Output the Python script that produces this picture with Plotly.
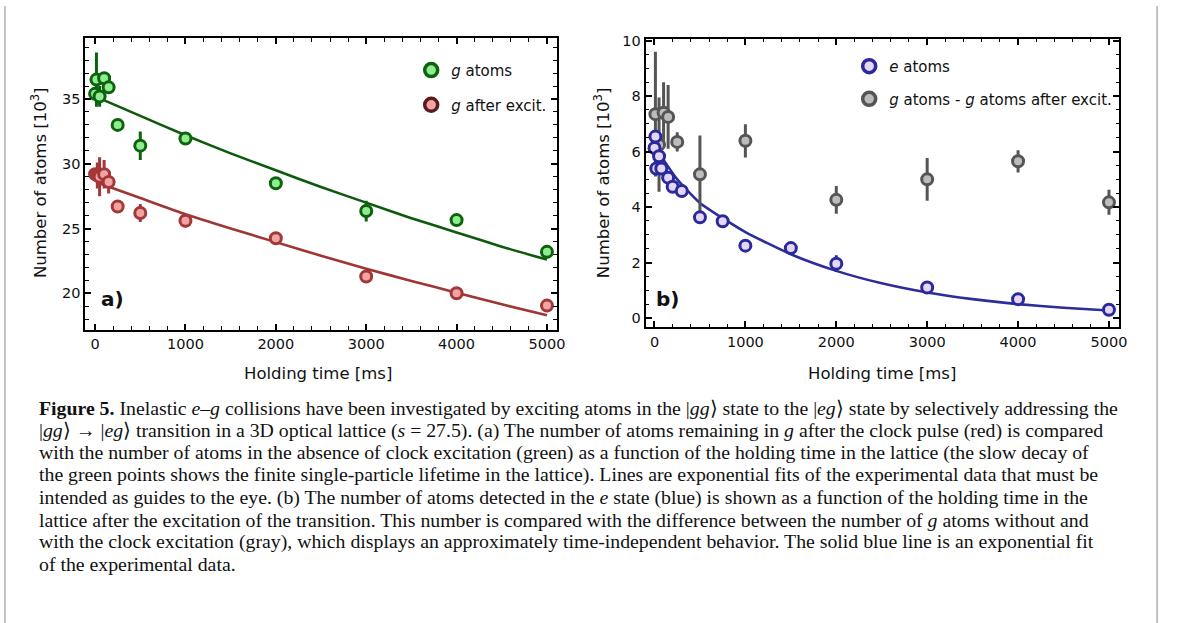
import plotly.graph_objects as go

# ---------------- data ----------------
# Panel a
g_t   = [0, 15, 50, 100, 150, 250, 500, 1000, 2000, 3000, 4000, 5000]
g_n   = [35.4, 36.5, 35.2, 36.6, 35.9, 33.0, 31.4, 31.95, 28.5, 26.35, 25.65, 23.2]
g_err = [0.3, 2.1, 0.8, 0.3, 0.3, 0.3, 1.1, 0.3, 0.3, 0.8, 0.3, 0.3]

r_t   = [0, 25, 50, 100, 150, 250, 500, 1000, 2000, 3000, 4000, 5000]
r_n   = [29.2, 29.1, 29.0, 29.2, 28.6, 26.7, 26.2, 25.6, 24.25, 21.3, 20.0, 19.05]
r_err = [0.4, 1.0, 1.5, 1.1, 0.9, 0.3, 0.7, 0.5, 0.3, 0.3, 0.3, 0.3]

fit_a_t     = [0, 500, 1000, 1500, 2000, 2500, 3000, 3500, 4000, 4500, 5000]
fit_green   = [35.2, 33.7, 32.2, 30.8, 29.5, 28.2, 27.0, 25.8, 24.7, 23.6, 22.6]
fit_red_t   = [60, 500, 1000, 1500, 2000, 2500, 3000, 3500, 4000, 4500, 5000]
fit_red     = [28.45, 27.35, 26.1, 25.0, 23.95, 22.9, 21.9, 20.95, 20.05, 19.15, 18.3]

# Panel b
e_t   = [10, 0, 20, 50, 75, 150, 200, 300, 500, 750, 1000, 1500, 2000, 3000, 4000, 5000]
e_n   = [6.54, 6.13, 5.39, 5.83, 5.39, 5.06, 4.73, 4.58, 3.63, 3.49, 2.61, 2.52, 1.96, 1.10, 0.68, 0.30]
e_err = [0.15, 0.1, 0.1, 0.1, 0.1, 0.1, 0.1, 0.1, 0.1, 0.1, 0.1, 0.1, 0.3, 0.1, 0.1, 0.1]

d_t   = [10, 50, 100, 150, 250, 500, 1000, 2000, 3000, 4000, 5000]
d_n   = [7.35, 6.25, 7.4, 7.25, 6.35, 5.18, 6.39, 4.26, 5.0, 5.65, 4.17]
d_err = [2.25, 1.7, 1.1, 1.15, 0.35, 1.4, 0.6, 0.5, 0.77, 0.4, 0.45]

fit_b_t  = [0, 100, 250, 500, 750, 1000, 1500, 2000, 2500, 3000, 3500, 4000, 4500, 5000]
fit_blue = [6.2, 5.7, 5.0, 4.15, 3.6, 3.1, 2.3, 1.7, 1.25, 0.92, 0.68, 0.5, 0.37, 0.27]

caption_lines = [
    "<b>Figure 5.</b> Inelastic <i>e</i>–<i>g</i> collisions have been investigated by exciting atoms in the |<i>gg</i>⟩ state to the |<i>eg</i>⟩ state by selectively addressing the",
    "|<i>gg</i>⟩ → |<i>eg</i>⟩ transition in a 3D optical lattice (<i>s</i> = 27.5). (a) The number of atoms remaining in <i>g</i> after the clock pulse (red) is compared",
    "with the number of atoms in the absence of clock excitation (green) as a function of the holding time in the lattice (the slow decay of",
    "the green points shows the finite single-particle lifetime in the lattice). Lines are exponential fits of the experimental data that must be",
    "intended as guides to the eye. (b) The number of atoms detected in the <i>e</i> state (blue) is shown as a function of the holding time in the",
    "lattice after the excitation of the transition. This number is compared with the difference between the number of <i>g</i> atoms without and",
    "with the clock excitation (gray), which displays an approximately time-independent behavior. The solid blue line is an exponential fit",
    "of the experimental data.",
]

# ---------------- styles ----------------
W, H = 1179, 623
SANS = "DejaVu Sans"
GREEN_E, GREEN_F, GREEN_L = "#0b640b", "#90ec90", "#0d5a0d"
RED_E, RED_F, RED_L, RED_LEG = "#a33838", "#f2a4a4", "#a03535", "#5a1a22"
BLUE_E, BLUE_F, BLUE_L = "#2a2a9c", "#e4d6f4", "#2c2c9a"
GRAY_E, GRAY_F = "#555555", "#bcbcbc"

def px_x(p):
    return p / W

def px_y(p):
    return 1 - p / H

fig = go.Figure()

def pts(x, y, err, edge, fill, xa, ya):
    return go.Scatter(
        x=x, y=y, mode="markers", xaxis=xa, yaxis=ya, showlegend=False,
        error_y=dict(type="data", array=err, visible=True, color=edge, thickness=3, width=0),
        marker=dict(size=11, color=fill, line=dict(color=edge, width=3)),
        hoverinfo="x+y",
    )

def line(x, y, color, xa, ya):
    return go.Scatter(x=x, y=y, mode="lines", xaxis=xa, yaxis=ya, showlegend=False,
                      line=dict(color=color, width=2.6, shape="spline", smoothing=0.6))

def legend_item(name, edge, fill, legend, xa, ya):
    return go.Scatter(x=[None], y=[None], mode="markers", name=name, legend=legend,
                      xaxis=xa, yaxis=ya, showlegend=True,
                      marker=dict(size=13, color=fill, line=dict(color=edge, width=3.5)))

# panel a
fig.add_trace(line(fit_a_t, fit_green, GREEN_L, "x", "y"))
fig.add_trace(line(fit_red_t, fit_red, RED_L, "x", "y"))
fig.add_trace(pts(g_t, g_n, g_err, GREEN_E, GREEN_F, "x", "y"))
fig.add_trace(pts(r_t, r_n, r_err, RED_E, RED_F, "x", "y"))
fig.add_trace(legend_item("<i>g</i> atoms", GREEN_E, GREEN_F, "legend", "x", "y"))
fig.add_trace(legend_item("<i>g</i> after excit.", RED_LEG, RED_F, "legend2", "x", "y"))

# panel b
fig.add_trace(line(fit_b_t, fit_blue, BLUE_L, "x2", "y2"))
fig.add_trace(pts(d_t, d_n, d_err, GRAY_E, GRAY_F, "x2", "y2"))
fig.add_trace(pts(e_t, e_n, e_err, BLUE_E, BLUE_F, "x2", "y2"))
fig.add_trace(legend_item("<i>e</i> atoms", BLUE_E, BLUE_F, "legend3", "x2", "y2"))
fig.add_trace(legend_item("<i>g</i> atoms - <i>g</i> atoms after excit.", GRAY_E, GRAY_F, "legend4", "x2", "y2"))

axis_common = dict(
    showline=True, linecolor="black", linewidth=2, mirror="ticks",
    ticks="inside", ticklen=6, tickwidth=1.5, tickcolor="black",
    showgrid=False, zeroline=False,
    tickfont=dict(family=SANS, size=14.5, color="#111"),
)

def xax(domain, rng):
    d = dict(axis_common)
    d.update(domain=domain, range=rng, dtick=1000, tick0=0,
             minor=dict(dtick=200, tick0=0, ticks="inside", ticklen=3.5, tickcolor="black", tickwidth=1.2))
    return d

def yax(domain, rng, dtick, minor, anchor):
    d = dict(axis_common)
    d.update(domain=domain, range=rng, dtick=dtick, tick0=0, anchor=anchor,
             minor=dict(dtick=minor, tick0=0, ticks="inside", ticklen=3.5, tickcolor="black", tickwidth=1.2))
    return d

xa = xax([px_x(86), px_x(560.7)], [-107, 5110]); xa["anchor"] = "y"
xb = xax([px_x(650), px_x(1126.7)], [-98, 5111]); xb["anchor"] = "y2"
ya = yax([px_y(326.7), px_y(32.7)], [17.2, 39.68], 5, 1, "x")
yb = yax([px_y(324.3), px_y(33.3)], [-0.33, 10.06], 2, 0.5, "x2")

def leg(x, y):
    return dict(x=px_x(x), y=px_y(y), xanchor="left", yanchor="middle",
                bgcolor="rgba(0,0,0,0)", borderwidth=0,
                font=dict(family=SANS, size=15, color="#111"), itemwidth=30)

TITLE_FONT = dict(family=SANS, size=16.5, color="#111")
annotations = [
    dict(text="Holding time [ms]", x=px_x(320), y=px_y(371), xref="paper", yref="paper",
         xanchor="center", yanchor="middle", showarrow=False, font=TITLE_FONT),
    dict(text="Holding time [ms]", x=px_x(888), y=px_y(371), xref="paper", yref="paper",
         xanchor="center", yanchor="middle", showarrow=False, font=TITLE_FONT),
    dict(text="Number of atoms [10<sup>3</sup>]", x=px_x(40), y=px_y(178), xref="paper", yref="paper",
         xanchor="center", yanchor="middle", showarrow=False, textangle=-90, font=TITLE_FONT),
    dict(text="Number of atoms [10<sup>3</sup>]", x=px_x(606), y=px_y(178), xref="paper", yref="paper",
         xanchor="center", yanchor="middle", showarrow=False, textangle=-90, font=TITLE_FONT),
    dict(text="<b>a)</b>", x=px_x(113), y=px_y(296), xref="paper", yref="paper",
         xanchor="center", yanchor="middle", showarrow=False, font=dict(family=SANS, size=20, color="#111")),
    dict(text="<b>b)</b>", x=px_x(672), y=px_y(296), xref="paper", yref="paper",
         xanchor="center", yanchor="middle", showarrow=False, font=dict(family=SANS, size=20, color="#111")),
]

cap_y = [406, 428.5, 451, 473.5, 496, 518.5, 541, 563.5]
for txt, yy in zip(caption_lines, cap_y):
    annotations.append(dict(text=txt, x=px_x(37), y=px_y(yy), xref="paper", yref="paper",
                            xanchor="left", yanchor="middle", showarrow=False,
                            font=dict(family="Liberation Serif", size=19.8, color="#111")))

shapes = [
    dict(type="line", xref="paper", yref="paper", x0=px_x(5), x1=px_x(5), y0=0, y1=1,
         line=dict(color="#9a9a9a", width=1.2)),
    dict(type="line", xref="paper", yref="paper", x0=px_x(1165), x1=px_x(1165), y0=0, y1=1,
         line=dict(color="#9a9a9a", width=1.2)),
]

fig.update_layout(
    width=W, height=H, autosize=False,
    margin=dict(l=0, r=0, t=0, b=0),
    paper_bgcolor="white", plot_bgcolor="white",
    xaxis=xa, yaxis=ya, xaxis2=xb, yaxis2=yb,
    legend=leg(414, 65), legend2=leg(414, 100),
    legend3=leg(855, 61), legend4=leg(855, 94),
    annotations=annotations, shapes=shapes,
    font=dict(family=SANS),
)

fig.write_html("out.html")
